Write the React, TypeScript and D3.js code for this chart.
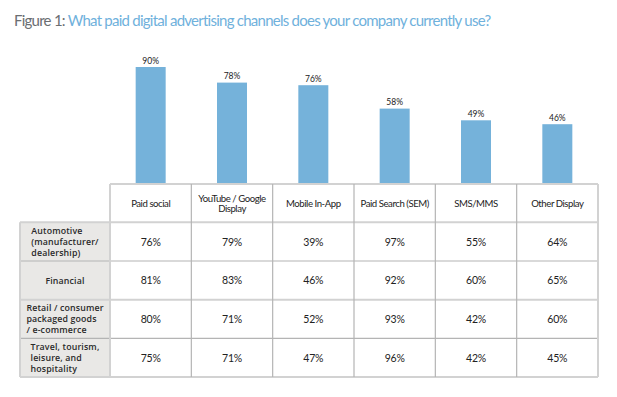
import React, { useEffect, useRef } from "react";
import * as d3 from "d3";

const channels: string[][] = [
  ["Paid social"],
  ["YouTube / Google", "Display"],
  ["Mobile In-App"],
  ["Paid Search (SEM)"],
  ["SMS/MMS"],
  ["Other Display"],
];
const overall: number[] = [90, 78, 76, 58, 49, 46];
const industries: string[][] = [
  ["Automotive", "(manufacturer/", "dealership)"],
  ["Financial"],
  ["Retail / consumer", "packaged goods", "/ e-commerce"],
  ["Travel, tourism,", "leisure, and", "hospitality"],
];
const automotive: number[] = [76, 79, 39, 97, 55, 64];
const financial: number[] = [81, 83, 46, 92, 60, 65];
const retail: number[] = [80, 71, 52, 93, 42, 60];
const travel: number[] = [75, 71, 47, 96, 42, 45];
const rows = [automotive, financial, retail, travel];

const W = 617;
const H = 397;

export default function App() {
  const ref = useRef<SVGSVGElement>(null);
  useEffect(() => {
    const svg = d3.select(ref.current);
    svg.selectAll("*").remove();

    const tableLeft = 110;
    const tableRight = 598;
    const labelLeft = 20;
    const headerTop = 184;
    const headerBottom = 222.3;
    const rowH = 38.7;

    const x = d3
      .scaleBand<number>()
      .domain(d3.range(channels.length))
      .range([tableLeft, tableRight])
      .paddingInner(0)
      .paddingOuter(0);
    const y = d3.scaleLinear().domain([0, 100]).range([headerTop, headerTop - 130]);
    const barW = 30;

    // Title
    const title = svg
      .append("text")
      .attr("x", 14)
      .attr("y", 26)
      .attr("font-family", "Lato, sans-serif")
      .attr("font-size", 15)
      .attr("letter-spacing", -0.75);
    title.append("tspan").attr("fill", "#6b6e72").text("Figure 1: ");
    title
      .append("tspan")
      .attr("fill", "#6fb1dc")
      .text("What paid digital advertising channels does your company currently use?");

    // Bars
    svg
      .append("g")
      .selectAll("rect")
      .data(overall)
      .join("rect")
      .attr("x", (_, i) => x(i)! + x.bandwidth() / 2 - barW / 2)
      .attr("width", barW)
      .attr("y", (d) => y(d))
      .attr("height", (d) => y(0) - y(d))
      .attr("fill", "#75b2da");

    svg
      .append("g")
      .selectAll("text")
      .data(overall)
      .join("text")
      .attr("x", (_, i) => x(i)! + x.bandwidth() / 2)
      .attr("y", (d) => y(d) - 3.5)
      .attr("text-anchor", "middle")
      .attr("font-family", "Lato, sans-serif")
      .attr("font-size", 8.5)
      .attr("fill", "#222")
      .text((d) => `${d}%`);

    // Table backgrounds
    const tableBottom = headerBottom + rowH * industries.length;
    svg
      .append("rect")
      .attr("x", labelLeft)
      .attr("y", headerBottom)
      .attr("width", tableLeft - labelLeft)
      .attr("height", tableBottom - headerBottom)
      .attr("fill", "#e9e8e6");

    const lines = svg.append("g");
    const inner = "#b4b4b4";
    const outer = "#d2d2d2";
    d3.range(industries.length + 1).forEach((k) => {
      const yy = headerBottom + k * rowH;
      const isThick = k === 0 || k === 2 || k === industries.length;
      lines
        .append("line")
        .attr("x1", labelLeft)
        .attr("x2", tableRight)
        .attr("y1", yy)
        .attr("y2", yy)
        .attr("stroke", isThick ? outer : inner)
        .attr("stroke-width", isThick ? 2 : 1.2);
    });
    lines
      .append("line")
      .attr("x1", tableLeft)
      .attr("x2", tableRight)
      .attr("y1", headerTop)
      .attr("y2", headerTop)
      .attr("stroke", outer)
      .attr("stroke-width", 2);
    lines
      .append("line")
      .attr("x1", labelLeft)
      .attr("x2", labelLeft)
      .attr("y1", headerBottom)
      .attr("y2", tableBottom)
      .attr("stroke", outer)
      .attr("stroke-width", 2);
    d3.range(channels.length + 1).forEach((k) => {
      const xx = tableLeft + k * x.bandwidth();
      const isThick = k === 0 || k === channels.length;
      lines
        .append("line")
        .attr("x1", xx)
        .attr("x2", xx)
        .attr("y1", headerTop)
        .attr("y2", tableBottom)
        .attr("stroke", isThick ? outer : inner)
        .attr("stroke-width", isThick ? 2 : 1.2);
    });

    // header labels
    const hdr = svg.append("g");
    channels.forEach((lab, i) => {
      const cx = x(i)! + x.bandwidth() / 2;
      const cy = (headerTop + headerBottom) / 2 + 1;
      const lh = 10;
      const t = hdr
        .append("text")
        .attr("text-anchor", "middle")
        .attr("font-family", "Lato, sans-serif")
        .attr("font-size", 9.6)
        .attr("letter-spacing", -0.45)
        .attr("fill", "#222");
      lab.forEach((line, j) => {
        t.append("tspan")
          .attr("x", cx)
          .attr("y", cy + (j - (lab.length - 1) / 2) * lh + 3.3)
          .text(line);
      });
    });

    // row labels
    const rl = svg.append("g");
    industries.forEach((lab, r) => {
      const cy = headerBottom + rowH * r + rowH / 2;
      const lh = 11;
      const cx = (labelLeft + tableLeft) / 2;
      const t = rl
        .append("text")
        .attr("font-family", "'Open Sans', sans-serif")
        .attr("font-size", 8.8)
        .attr("font-weight", 600)
        .attr("letter-spacing", 0.15)
        .attr("fill", "#2a2a2a");
      const spans = lab.map((line, j) =>
        t
          .append("tspan")
          .attr("y", cy + (j - (lab.length - 1) / 2) * lh + 3.2)
          .text(line)
      );
      const maxW = d3.max(spans, (s) => (s.node() as SVGTSpanElement).getComputedTextLength()) || 0;
      spans.forEach((s) => s.attr("x", cx - maxW / 2));
    });

    // cell values
    const cells = svg.append("g");
    rows.forEach((vals, r) => {
      const cy = headerBottom + rowH * r + rowH / 2;
      vals.forEach((v, i) => {
        cells
          .append("text")
          .attr("x", x(i)! + x.bandwidth() / 2)
          .attr("y", cy + 4)
          .attr("text-anchor", "middle")
          .attr("font-family", "Lato, sans-serif")
          .attr("font-size", 10.5)
          .attr("letter-spacing", -0.2)
          .attr("fill", "#222")
          .text(`${v}%`);
      });
    });
  }, []);

  return (
    <svg
      ref={ref}
      width={W}
      height={H}
      style={{ position: "absolute", left: 0, top: 0, background: "#fff" }}
    />
  );
}
